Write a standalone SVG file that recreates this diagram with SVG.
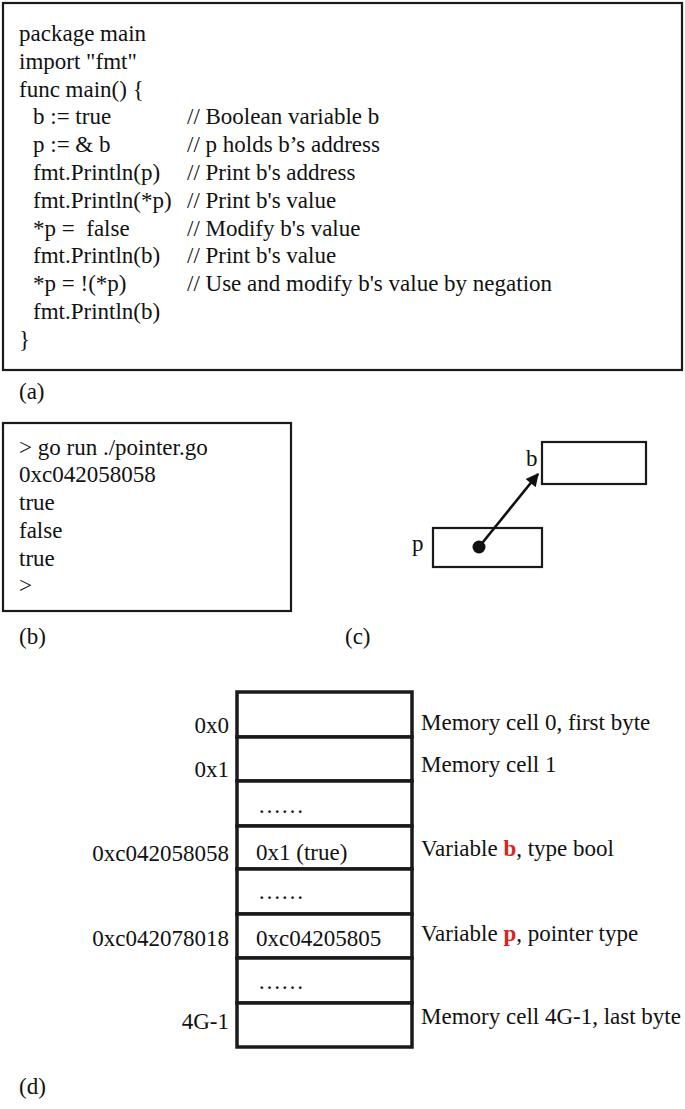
<svg xmlns="http://www.w3.org/2000/svg" width="685" height="1109" viewBox="0 0 685 1109">
<style>
text{font-family:"Liberation Serif","Times New Roman",serif;font-size:23px;fill:#111}
.box{fill:none;stroke:#1a1a1a;stroke-width:2.2}
.cell{fill:#fff;stroke:#1a1a1a;stroke-width:3.5}
.r{text-anchor:end}
.hl{fill:#d9261c;font-weight:bold}
</style>
<defs>
<marker id="ah" viewBox="0 0 10 10" refX="9" refY="5" markerWidth="5.5" markerHeight="5" orient="auto" markerUnits="strokeWidth">
<path d="M0,0 L10,5 L0,10 z" fill="#111"/>
</marker>
</defs>
<g id="code">
<rect class="box" x="3" y="3" width="679" height="367"/>
<text x="19" y="41">package main</text>
<text x="19" y="68.8">import "fmt"</text>
<text x="19" y="96.6">func main() {</text>
<text x="33" y="124.4">b := true</text><text x="187" y="124.4">// Boolean variable b</text>
<text x="33" y="152.2">p := &amp; b</text><text x="187" y="152.2">// p holds b’s address</text>
<text x="33" y="180">fmt.Println(p)</text><text x="187" y="180">// Print b's address</text>
<text x="33" y="207.8">fmt.Println(*p)</text><text x="187" y="207.8">// Print b's value</text>
<text x="33" y="235.6" xml:space="preserve">*p =  false</text><text x="187" y="235.6">// Modify b's value</text>
<text x="33" y="263.4">fmt.Println(b)</text><text x="187" y="263.4">// Print b's value</text>
<text x="33" y="291.2">*p = !(*p)</text><text x="187" y="291.2">// Use and modify b's value by negation</text>
<text x="33" y="319">fmt.Println(b)</text>
<text x="19" y="346.8">}</text>
</g>
<text x="19" y="399">(a)</text>
<g id="output">
<rect class="box" x="3" y="423" width="288" height="188"/>
<text x="19" y="455">&gt; go run ./pointer.go</text>
<text x="19" y="482">0xc042058058</text>
<text x="19" y="510">true</text>
<text x="19" y="538">false</text>
<text x="19" y="566">true</text>
<text x="19" y="593">&gt;</text>
</g>
<text x="19" y="644">(b)</text>
<text x="345" y="644">(c)</text>
<g id="var-b">
<rect class="box" x="542" y="442" width="104" height="42" stroke-width="2.5"/>
<text x="526" y="466">b</text>
</g>
<g id="var-p">
<rect class="box" x="433" y="528" width="109" height="39" stroke-width="2.5"/>
<text x="412" y="551">p</text>
<circle cx="479" cy="547" r="6.5" fill="#111"/>
</g>
<g id="connectors">
<line x1="479" y1="547" x2="538" y2="474" stroke="#111" stroke-width="2.6" marker-end="url(#ah)"/>
</g>
<g id="memory">
<rect class="cell" x="237" y="692" width="175" height="45"/>
<rect class="cell" x="237" y="737" width="175" height="44"/>
<rect class="cell" x="237" y="781" width="175" height="45"/>
<rect class="cell" x="237" y="826" width="175" height="43"/>
<rect class="cell" x="237" y="869" width="175" height="45"/>
<rect class="cell" x="237" y="914" width="175" height="44"/>
<rect class="cell" x="237" y="958" width="175" height="45"/>
<rect class="cell" x="237" y="1003" width="175" height="44"/>
<text class="r" x="229" y="733">0x0</text>
<text class="r" x="229" y="777">0x1</text>
<text class="r" x="229" y="861">0xc042058058</text>
<text class="r" x="229" y="946">0xc042078018</text>
<text class="r" x="229" y="1029">4G-1</text>
<text x="258" y="813">……</text>
<text x="256" y="860">0x1 (true)</text>
<text x="258" y="899">……</text>
<text x="256" y="946">0xc04205805</text>
<text x="258" y="989">……</text>
<text x="421" y="730">Memory cell 0, first byte</text>
<text x="421" y="772">Memory cell 1</text>
<text x="421" y="856">Variable <tspan class="hl">b</tspan>, type bool</text>
<text x="421" y="941">Variable <tspan class="hl">p</tspan>, pointer type</text>
<text x="421" y="1024">Memory cell 4G-1, last byte</text>
</g>
<text x="19" y="1094">(d)</text>
</svg>
